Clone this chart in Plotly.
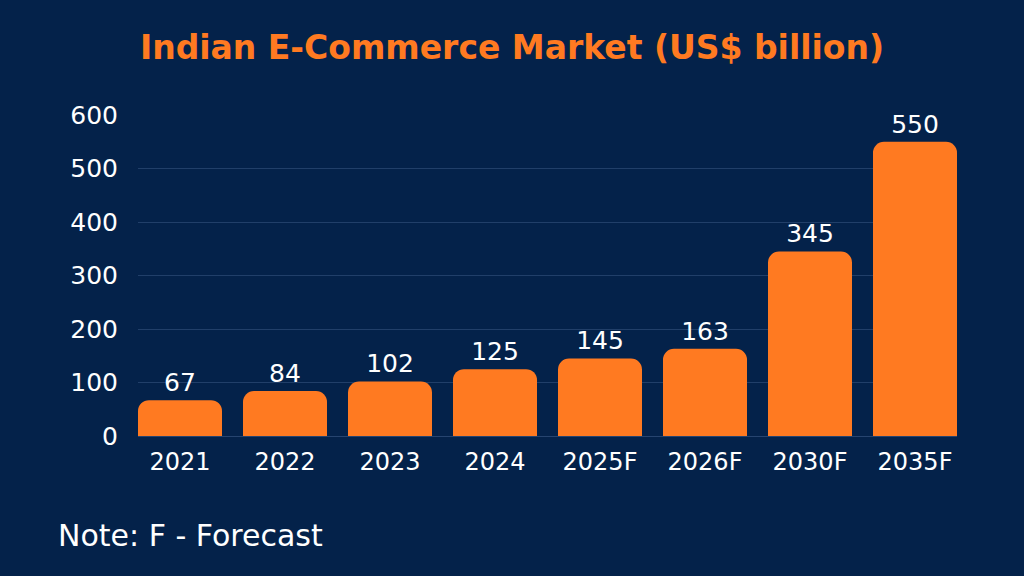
import plotly.graph_objects as go

# market size, US$ billion
years = ["2021", "2022", "2023", "2024", "2025F", "2026F", "2030F", "2035F"]
market_size = [67, 84, 102, 125, 145, 163, 345, 550]

BG = "#04224A"
ORANGE = "#FF7A21"
FONT = "DejaVu Sans"

fig = go.Figure()
fig.add_trace(go.Bar(
    x=years,
    y=market_size,
    marker=dict(color=ORANGE, line=dict(width=0)),
    text=market_size,
    textposition="outside",
    textfont=dict(color="white", size=25, family=FONT),
    cliponaxis=False,
))

fig.update_layout(
    width=1024,
    height=576,
    paper_bgcolor=BG,
    plot_bgcolor=BG,
    margin=dict(l=138, r=67, t=115, b=140),
    bargap=0.2,
    barcornerradius=11,
    showlegend=False,
    title=dict(
        text="<b>Indian E-Commerce Market (US$ billion)</b>",
        x=0.5, xanchor="center", y=0.918, yanchor="middle",
        font=dict(color=ORANGE, size=33, family=FONT),
    ),
    xaxis=dict(
        range=[-0.4, 7.4],
        tickfont=dict(color="white", size=24, family=FONT),
        ticks="outside", ticklen=4, tickcolor="rgba(0,0,0,0)",
        showgrid=False, showline=False,
    ),
    yaxis=dict(
        range=[0, 600],
        tickvals=[0, 100, 200, 300, 400, 500, 600],
        tickfont=dict(color="white", size=25, family=FONT),
        ticks="outside", ticklen=14, tickcolor="rgba(0,0,0,0)",
        gridcolor="rgba(120,150,200,0.25)", gridwidth=1,
        zeroline=True, zerolinecolor="rgba(120,150,200,0.3)", zerolinewidth=1,
        showline=False,
    ),
    annotations=[dict(
        text="Note: F - Forecast",
        xref="paper", yref="paper", x=-0.1, y=-0.31,
        xanchor="left", yanchor="middle", showarrow=False,
        font=dict(color="white", size=30, family=FONT),
    )],
)

fig.write_html("out.html", config={"displayModeBar": False},
               post_script="document.body.style.margin='0';")
